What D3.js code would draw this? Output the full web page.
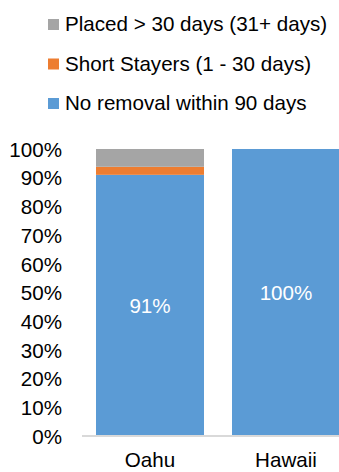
<!DOCTYPE html>
<html>
<head>
<meta charset="utf-8">
<script src="https://cdn.jsdelivr.net/npm/d3@7"></script>
<style>
  html, body { margin: 0; padding: 0; background: #fff; }
  svg { display: block; font-family: "Liberation Sans", Arial, sans-serif; }
</style>
</head>
<body>
<svg id="chart" width="339" height="472"></svg>
<script>
// Regions on the x axis
const categories = ["Oahu", "Hawaii"];
// Stacked shares (percent), bottom to top
const noRemoval = [91, 100];
const shortStayers = [2.8, 0];
const placedOver30 = [6.2, 0];
// Series names and colours, in legend order (top to bottom)
const seriesNames = ["Placed > 30 days (31+ days)", "Short Stayers (1 - 30 days)", "No removal within 90 days"];
const seriesColors = ["#a5a5a5", "#ed7d31", "#5b9bd5"];
const yTicks = [0, 10, 20, 30, 40, 50, 60, 70, 80, 90, 100];
// Data labels shown on the blue segment
const dataLabels = ["91%", "100%"];

const FS = 20.6;
const svg = d3.select("#chart");

const x = d3.scaleBand()
  .domain(categories)
  .range([82, 354])
  .paddingInner(0.206)
  .paddingOuter(0.103);

const y = d3.scaleLinear().domain([0, 100]).range([436, 149]);

// Stack layers built from the series arrays
const rows = categories.map((c, i) => ({
  cat: c,
  noRemoval: noRemoval[i],
  shortStayers: shortStayers[i],
  placedOver30: placedOver30[i]
}));
const keys = ["noRemoval", "shortStayers", "placedOver30"];
const keyColor = { noRemoval: seriesColors[2], shortStayers: seriesColors[1], placedOver30: seriesColors[0] };
const stacked = d3.stack().keys(keys)(rows);

svg.append("g").selectAll("g")
  .data(stacked)
  .join("g")
  .attr("fill", d => keyColor[d.key])
  .selectAll("rect")
  .data(d => d)
  .join("rect")
  .attr("x", d => x(d.data.cat))
  .attr("width", x.bandwidth())
  .attr("y", d => y(d[1]))
  .attr("height", d => Math.max(0, y(d[0]) - y(d[1])));

// Data labels in the middle of the blue segment
svg.append("g").selectAll("text")
  .data(rows)
  .join("text")
  .attr("x", d => x(d.cat) + x.bandwidth() / 2)
  .attr("y", d => (y(0) + y(d.noRemoval)) / 2)
  .attr("dy", "0.35em")
  .attr("text-anchor", "middle")
  .attr("fill", "#ffffff")
  .attr("font-size", FS)
  .text((d, i) => dataLabels[i]);

// Y axis labels (no axis line)
const yAxis = d3.axisLeft(y)
  .tickValues(yTicks)
  .tickFormat(d => d + "%")
  .tickSize(0)
  .tickPadding(0);
const yg = svg.append("g").attr("transform", "translate(62,0)").call(yAxis);
yg.select(".domain").remove();
yg.selectAll("text")
  .attr("font-size", FS)
  .attr("font-family", "Liberation Sans, Arial, sans-serif")
  .attr("fill", "#000")
  .attr("dy", "0.35em");

// X axis baseline and category labels
const xAxis = d3.axisBottom(x).tickSize(0).tickPadding(0);
const xg = svg.append("g").attr("transform", "translate(0,436)").call(xAxis);
xg.select(".domain").attr("stroke", "#d9d9d9").attr("stroke-width", 2)
  .attr("d", "M82,0H354");
xg.selectAll("text")
  .attr("font-size", FS)
  .attr("font-family", "Liberation Sans, Arial, sans-serif")
  .attr("fill", "#000")
  .attr("dy", null)
  .attr("y", 31);

// Legend
const legend = svg.append("g").selectAll("g")
  .data(seriesNames)
  .join("g")
  .attr("transform", (d, i) => `translate(48,${19 + i * 39.5})`);
legend.append("rect")
  .attr("width", 11).attr("height", 11)
  .attr("fill", (d, i) => seriesColors[i]);
legend.append("text")
  .attr("x", 17)
  .attr("y", 12)
  .attr("font-size", FS)
  .attr("fill", "#000")
  .text(d => d);
</script>
</body>
</html>
